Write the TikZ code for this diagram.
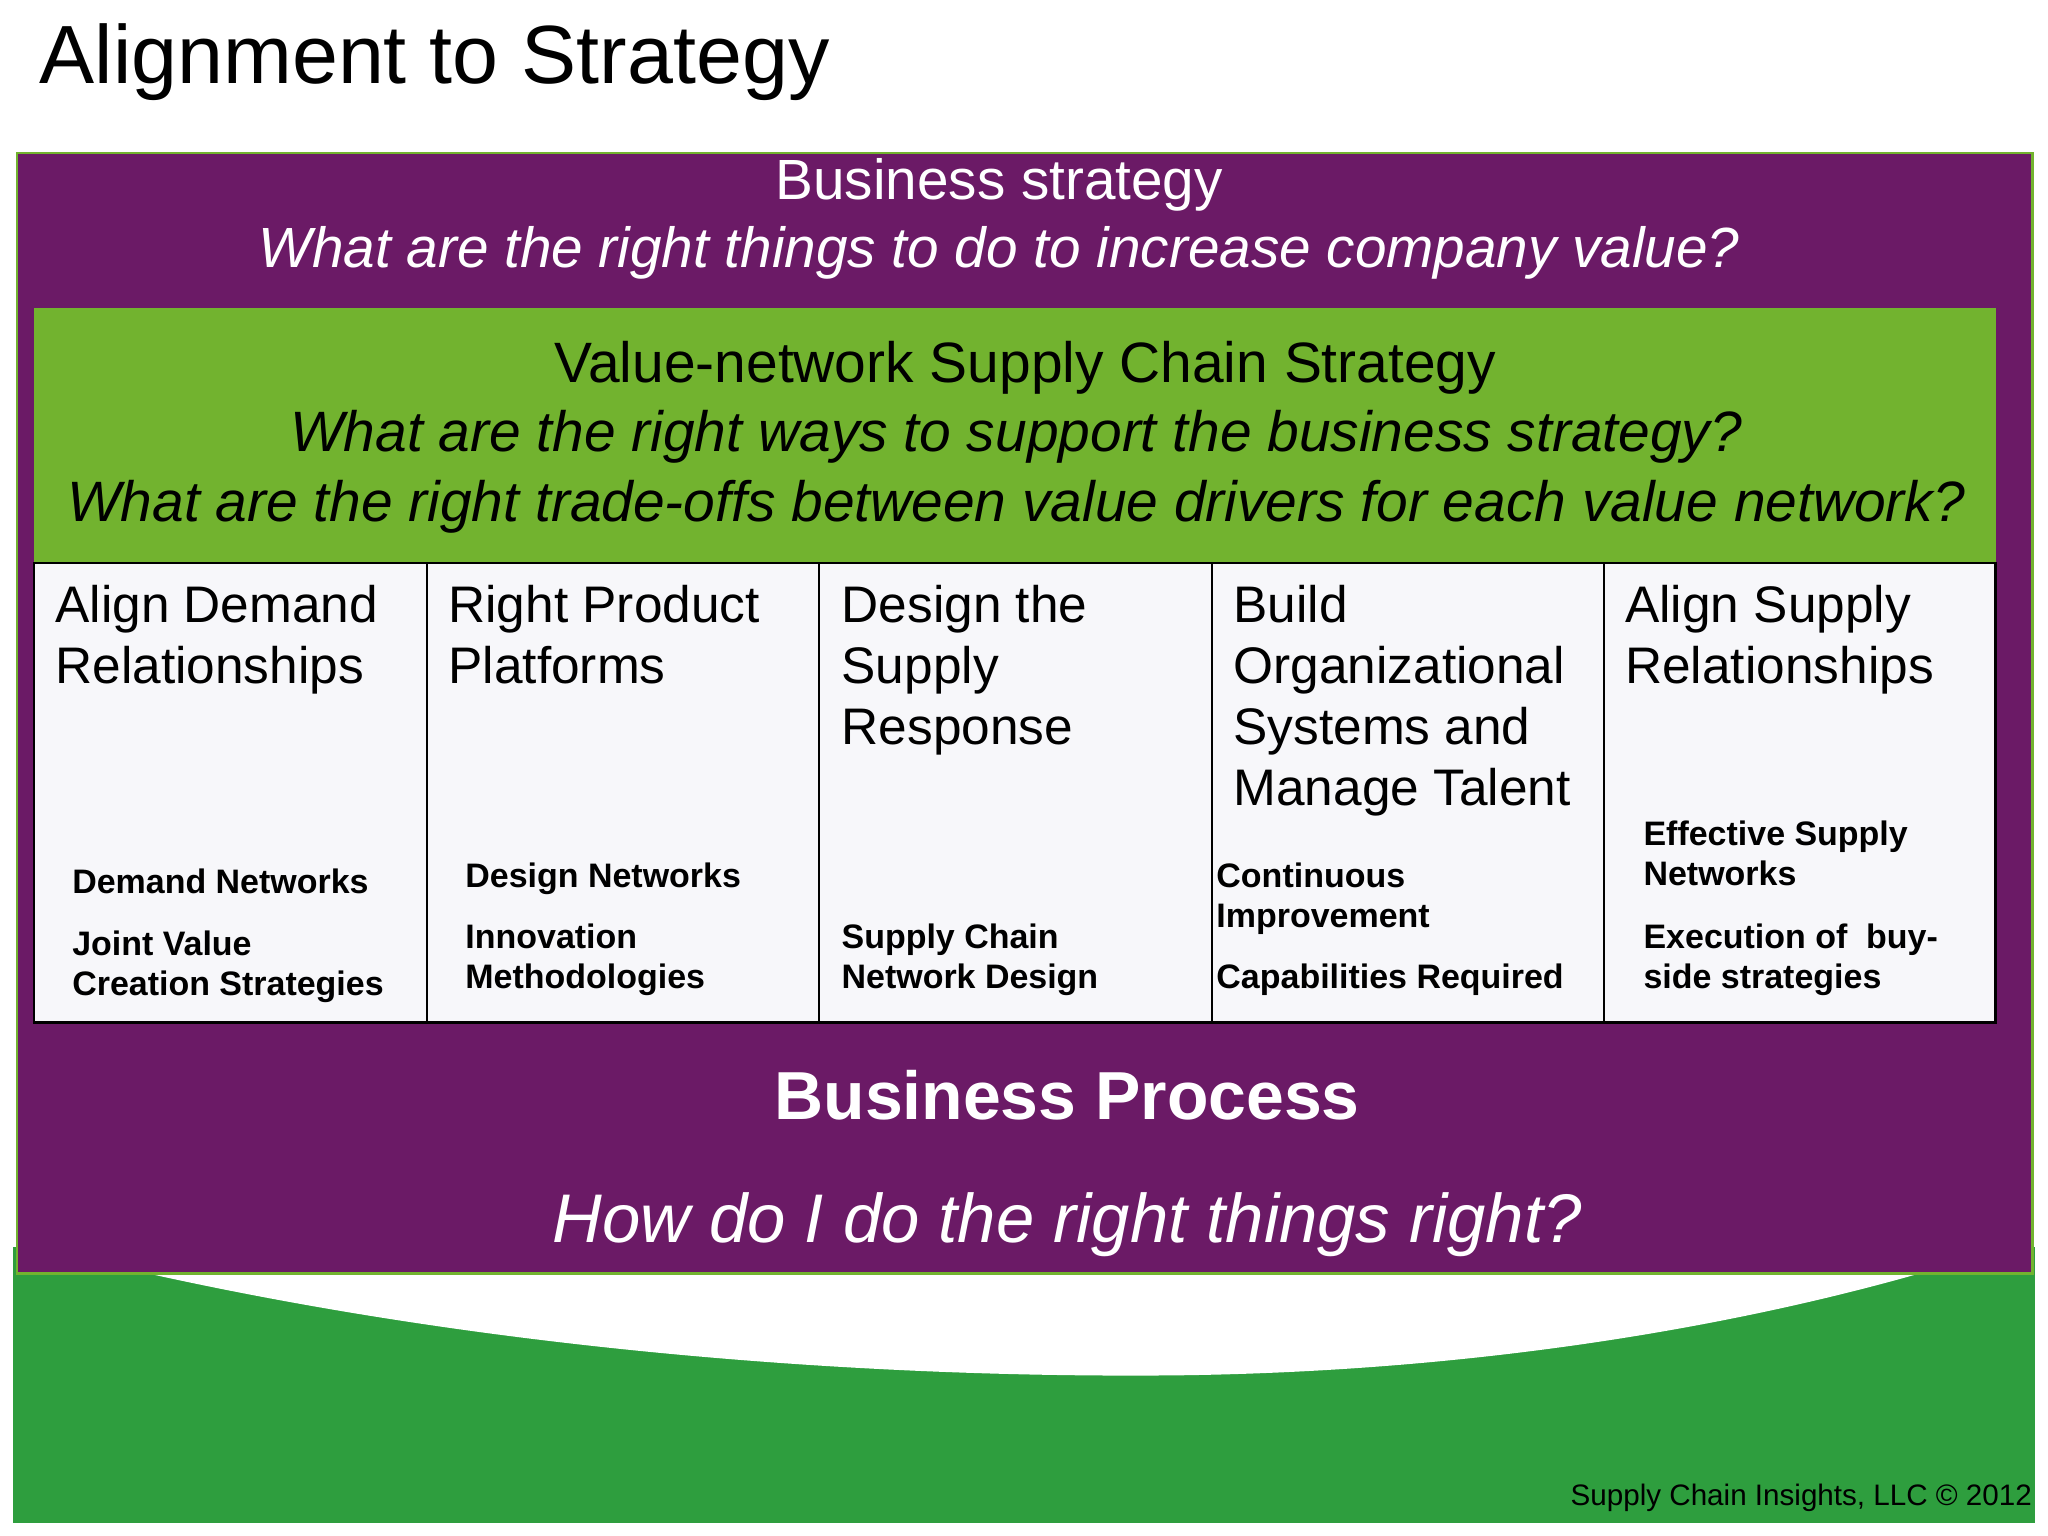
\documentclass[tikz,border=0pt]{standalone}
\usepackage{fontspec}
\setmainfont{Liberation Sans}
\definecolor{purp}{HTML}{6B1A66}
\definecolor{lgreen}{HTML}{72B32F}
\definecolor{dgreen}{HTML}{2E9E3E}
\definecolor{colfill}{HTML}{F7F7FA}
\tikzset{
 col/.style={draw=black,line width=1.2pt,fill=colfill},
 head/.style={anchor=north west,align=left,inner sep=0pt,font=\fontsize{22.4}{26.6}\selectfont},
 small/.style={anchor=north west,align=left,inner sep=0pt,font=\fontsize{14.8}{17.6}\selectfont\bfseries},
 wt/.style={text=white,inner sep=0pt,anchor=base}
}
\begin{document}
\begin{tikzpicture}[x=0.02cm,y=-0.02cm]
\useasboundingbox (0,0) rectangle (1568,1176);
\fill[white] (0,0) rectangle (1568,1176);
\node[anchor=base west,inner sep=0pt,font=\fontsize{36}{40}\selectfont] (title) at (30,64) {Alignment to Strategy};
% bottom green area
\fill[dgreen] (10,955) rectangle (1558,1166);
\fill[white] (100,972) .. controls (400,1040) and (700,1055) .. (900,1053) .. controls (1150,1050) and (1350,1010) .. (1480,972) -- cycle;
% purple
\draw[fill=purp,draw=lgreen,line width=1pt] (13,117) rectangle (1556,975);
\node[wt,font=\fontsize{24.7}{26}\selectfont] (bs) at (765,153) {Business strategy};
\node[wt,font=\fontsize{24.7}{26}\selectfont\itshape] (bsq) at (765,205) {What are the right things to do to increase company value?};
% green
\fill[lgreen] (26,236) rectangle (1528,431);
\node[inner sep=0pt,anchor=base,font=\fontsize{24.8}{26}\selectfont] (vn) at (785,293) {Value-network Supply Chain Strategy};
\node[inner sep=0pt,anchor=base,font=\fontsize{24.8}{26}\selectfont\itshape] (vq1) at (778,346) {What are the right ways to support the business strategy?};
\node[inner sep=0pt,anchor=base,font=\fontsize{24.8}{26}\selectfont\itshape] (vq2) at (778,399) {What are the right trade-offs between value drivers for each value network?};
% columns
\draw[col] (26,431) rectangle (327,783);
\draw[col] (327,431) rectangle (627,783);
\draw[col] (627,431) rectangle (928,783);
\draw[col] (928,431) rectangle (1228,783);
\draw[col] (1228,431) rectangle (1528,783);
\node[head] (h1) at (42,448) {Align Demand\\Relationships};
\node[head] (h2) at (343,448) {Right Product\\Platforms};
\node[head] (h3) at (644,448) {Design the\\Supply\\Response};
\node[head] (h4) at (944,448) {Build\\Organizational\\Systems and\\Manage Talent};
\node[head] (h5) at (1244,448) {Align Supply\\Relationships};
\node[small] (s1a) at (55,665) {Demand Networks};
\node[small] (s1b) at (55,712) {Joint Value\\Creation Strategies};
\node[small] (s2a) at (356,660) {Design Networks};
\node[small] (s2b) at (356,707) {Innovation\\Methodologies};
\node[small] (s3a) at (644,707) {Supply Chain\\Network Design};
\node[small] (s4a) at (931,660) {Continuous\\Improvement};
\node[small] (s4b) at (931,738) {Capabilities Required};
\node[small] (s5a) at (1258,628) {Effective Supply\\Networks};
\node[small] (s5b) at (1258,707) {Execution of~ buy-\\side strategies};
\node[wt,font=\fontsize{29.6}{30}\selectfont\bfseries] (bp) at (817,857) {Business Process};
\node[wt,font=\fontsize{30}{32}\selectfont\itshape] (bpq) at (817,951) {How do I do the right things right?};
\node[anchor=base east,inner sep=0pt,font=\fontsize{12.9}{14}\selectfont] (ft) at (1556,1153) {Supply Chain Insights, LLC © 2012};
\end{tikzpicture}
\end{document}
